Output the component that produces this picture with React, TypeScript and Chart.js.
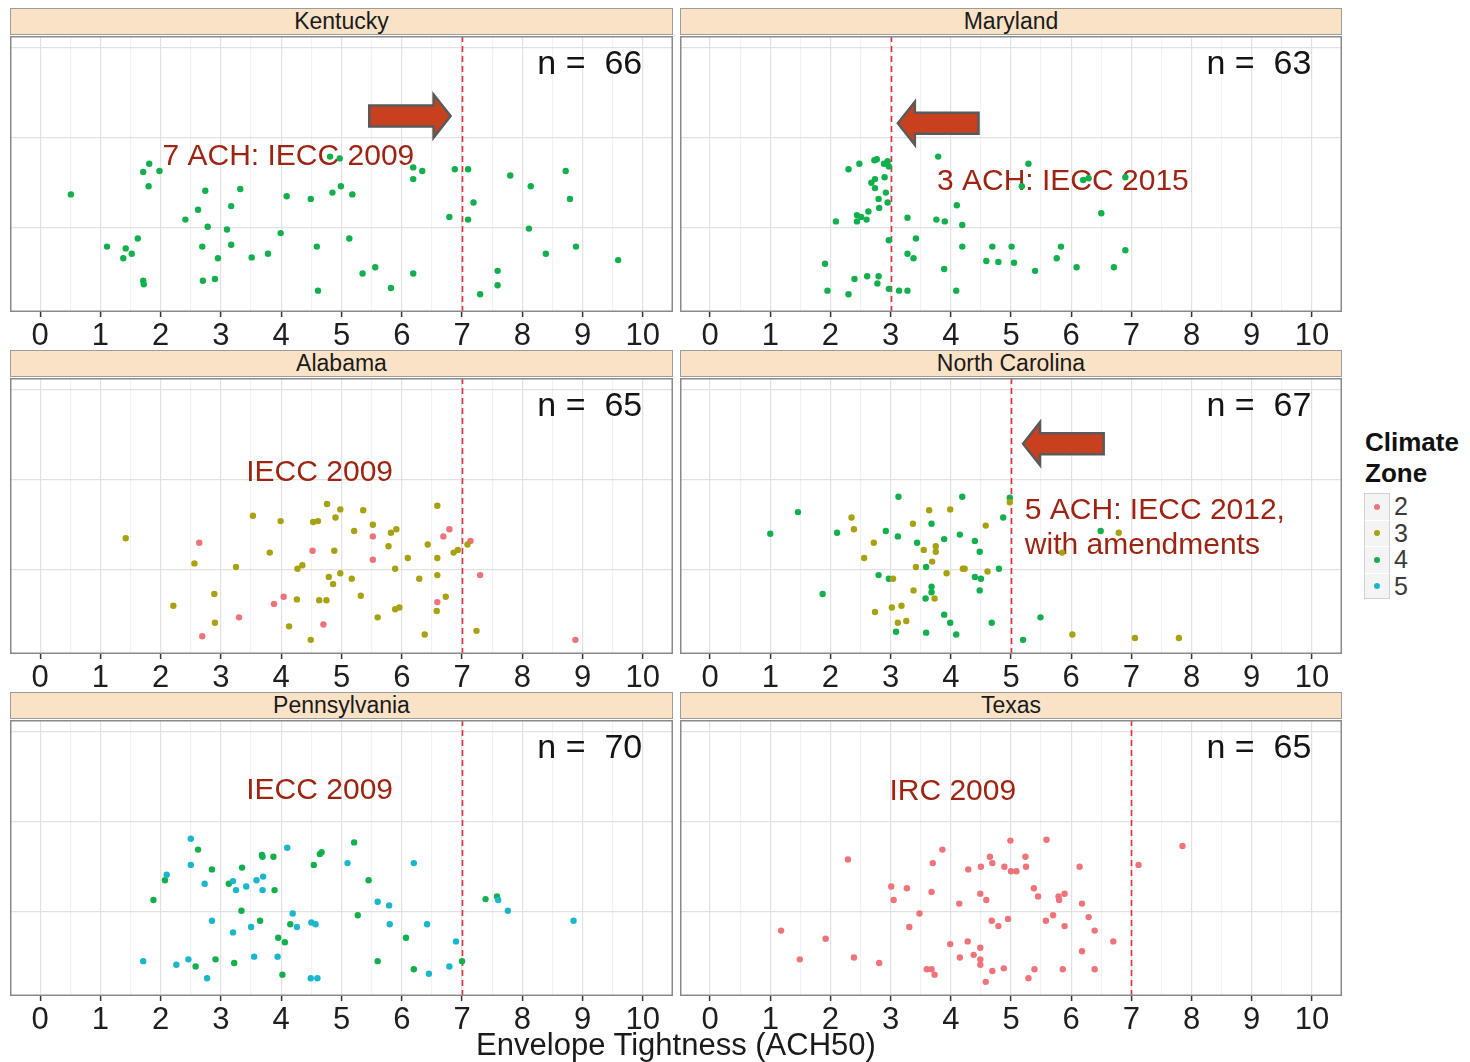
import React, { useEffect, useRef } from 'react';
import { Chart, registerables } from 'chart.js';

Chart.register(...registerables);

const FONT = "'Liberation Sans', Arial, sans-serif";
Chart.defaults.font.family = FONT;

// ---------- data ----------
const X_MAJOR_TICKS = [0, 1, 2, 3, 4, 5, 6, 7, 8, 9, 10];
const X_MINOR_TICKS = [0.5, 1.5, 2.5, 3.5, 4.5, 5.5, 6.5, 7.5, 8.5, 9.5];
const Y_TICKS = [1, 2, 3];
const ZONES = ['2', '3', '4', '5'];
const ZONE_COLORS = ['#F0737A', '#A8A212', '#12B04C', '#1AB7CC'];

type Pt = [number, number];

const KENTUCKY_ZONE4: Pt[] = [[0.51,1.37],[1.81,1.71],[1.71,1.62],[1.98,1.63],[1.80,1.46],[1.11,0.79],[1.42,0.77],[1.62,0.88],[1.52,0.71],[1.38,0.66],[1.71,0.41],[1.72,0.37],[2.74,1.41],[2.62,1.20],[2.41,1.09],[2.78,1.01],[2.69,0.79],[2.95,0.66],[2.70,0.41],[2.90,0.43],[3.32,1.43],[3.17,1.24],[3.10,0.98],[3.17,0.81],[3.51,0.67],[3.78,0.71],[4.09,1.35],[3.99,0.94],[4.49,1.32],[4.59,0.79],[4.61,0.30],[4.81,1.79],[4.97,1.77],[4.85,1.39],[4.99,1.46],[5.18,1.37],[5.13,0.88],[5.35,0.49],[5.56,0.56],[5.82,0.33],[6.19,1.67],[6.34,1.63],[6.19,1.54],[6.19,0.49],[6.88,1.65],[7.10,1.65],[7.19,1.28],[6.79,1.12],[7.10,1.09],[7.30,0.26],[7.59,0.52],[7.59,0.36],[7.80,1.58],[8.14,1.46],[8.11,0.99],[8.39,0.71],[8.72,1.63],[8.79,1.32],[8.89,0.79],[9.59,0.64]];

const MARYLAND_ZONE4: Pt[] = [[2.30,1.65],[2.48,1.71],[2.73,1.75],[2.77,1.76],[2.89,1.71],[2.97,1.68],[2.95,1.74],[2.68,1.50],[2.74,1.54],[2.74,1.44],[2.90,1.56],[2.92,1.39],[2.80,1.32],[2.95,1.28],[2.81,1.22],[2.63,1.18],[2.44,1.14],[2.51,1.12],[2.44,1.07],[2.60,1.09],[2.09,1.07],[2.97,0.86],[3.28,1.11],[3.42,0.88],[3.28,0.71],[3.38,0.66],[3.76,1.09],[3.90,1.07],[3.79,1.79],[4.10,1.25],[4.19,1.03],[4.19,0.79],[3.89,0.54],[1.91,0.60],[2.40,0.43],[2.61,0.46],[2.80,0.46],[2.78,0.38],[1.95,0.30],[2.30,0.26],[2.97,0.32],[3.14,0.30],[3.28,0.30],[4.09,0.30],[4.69,0.79],[4.79,0.62],[4.59,0.63],[5.01,0.79],[5.05,0.61],[5.29,1.71],[5.18,1.46],[6.20,1.53],[6.29,1.55],[6.90,1.56],[6.50,1.16],[5.83,0.79],[5.76,0.66],[6.90,0.75],[5.40,0.52],[6.09,0.56],[6.71,0.56]];

const ALABAMA_ZONE2: Pt[] = [[2.64,1.30],[4.52,1.21],[4.04,0.70],[3.88,0.62],[3.30,0.47],[4.70,0.39],[2.69,0.26],[5.52,1.37],[5.52,1.11],[6.69,1.37],[6.79,1.45],[7.14,1.32],[7.30,0.94],[6.59,0.64],[8.88,0.22]];

const ALABAMA_ZONE3: Pt[] = [[1.42,1.35],[3.53,1.60],[3.99,1.54],[4.53,1.53],[4.61,1.54],[4.76,1.73],[4.90,1.58],[4.98,1.67],[4.88,1.21],[3.81,1.19],[2.56,1.07],[3.25,1.03],[4.27,1.01],[4.35,1.05],[4.98,0.96],[4.79,0.92],[4.86,0.84],[2.89,0.73],[2.21,0.60],[4.26,0.67],[4.63,0.66],[4.75,0.66],[2.90,0.41],[4.13,0.37],[4.49,0.22],[5.36,1.66],[5.52,1.50],[5.21,1.43],[5.82,1.41],[5.91,1.45],[5.78,1.26],[6.10,1.13],[6.59,1.71],[6.43,1.28],[6.59,1.13],[6.86,1.19],[6.93,1.22],[7.09,1.28],[5.17,0.90],[5.89,1.01],[6.29,0.90],[6.59,0.94],[5.32,0.71],[5.89,0.56],[5.96,0.58],[5.60,0.47],[6.73,0.70],[6.58,0.54],[6.38,0.28],[7.24,0.32]];

const NORTH_CAROLINA_ZONE3: Pt[] = [[4.98,1.75],[2.35,1.58],[2.39,1.45],[3.64,1.66],[3.99,1.67],[3.37,1.51],[4.58,1.49],[2.72,1.30],[3.75,1.26],[3.55,1.22],[3.75,1.20],[2.56,1.13],[3.69,1.09],[3.42,1.03],[4.20,1.01],[4.23,1.01],[3.93,0.96],[4.61,0.98],[3.04,0.90],[3.38,0.77],[3.73,0.68],[3.02,0.58],[3.18,0.60],[2.74,0.53],[3.12,0.41],[3.26,0.43],[6.79,1.41],[5.85,1.19],[6.02,0.28],[7.06,0.24],[7.79,0.24]];

const NORTH_CAROLINA_ZONE4: Pt[] = [[3.13,1.81],[4.19,1.81],[4.98,1.80],[1.46,1.64],[1.00,1.40],[2.11,1.41],[3.68,1.51],[4.87,1.58],[2.92,1.43],[3.12,1.37],[4.15,1.39],[3.89,1.34],[4.40,1.32],[3.44,1.30],[4.48,1.20],[3.59,1.03],[4.80,1.01],[2.80,0.94],[2.97,0.90],[4.40,0.92],[4.50,0.90],[3.68,0.81],[3.68,0.75],[4.48,0.77],[1.87,0.73],[3.58,0.68],[3.89,0.50],[3.99,0.41],[4.68,0.41],[3.09,0.31],[3.59,0.30],[4.09,0.28],[6.49,1.43],[5.49,0.47],[5.20,0.22]];

const PENNSYLVANIA_ZONE4: Pt[] = [[2.62,1.69],[2.85,1.47],[2.07,1.35],[1.88,1.13],[3.35,1.49],[3.13,1.31],[3.68,1.63],[3.69,1.61],[3.87,1.61],[3.89,1.24],[4.54,1.52],[4.64,1.64],[4.67,1.66],[3.34,1.01],[3.65,0.90],[4.15,0.86],[3.95,0.71],[4.06,0.66],[2.58,0.39],[2.91,0.47],[3.22,0.43],[4.02,0.30],[5.21,1.77],[5.45,1.35],[5.27,0.96],[6.07,0.71],[5.60,0.45],[6.20,0.36],[7.00,0.45],[7.39,1.14],[7.58,1.17]];

const PENNSYLVANIA_ZONE5: Pt[] = [[2.50,1.81],[2.50,1.52],[2.10,1.41],[2.73,1.31],[3.20,1.34],[3.25,1.24],[3.42,1.28],[3.59,1.35],[3.70,1.39],[3.69,1.24],[4.10,1.71],[2.85,0.90],[3.50,0.83],[3.20,0.77],[4.19,0.98],[4.26,0.83],[4.50,0.88],[4.57,0.86],[1.71,0.45],[2.26,0.41],[2.46,0.47],[3.55,0.50],[3.94,0.50],[2.77,0.26],[4.49,0.26],[4.60,0.26],[5.10,1.54],[6.20,1.54],[5.60,1.11],[5.79,1.07],[5.80,0.86],[6.42,0.86],[6.90,0.67],[6.45,0.31],[6.79,0.39],[7.60,1.13],[7.76,1.01],[8.85,0.90]];

const TEXAS_ZONE2: Pt[] = [[2.29,1.58],[3.86,1.69],[3.70,1.54],[3.01,1.28],[3.27,1.26],[3.05,1.13],[3.68,1.22],[3.48,0.98],[3.31,0.83],[1.18,0.79],[1.92,0.70],[1.49,0.47],[2.39,0.49],[2.81,0.43],[3.60,0.36],[3.68,0.36],[3.73,0.30],[3.99,0.64],[4.15,0.49],[4.28,0.67],[4.38,0.52],[4.49,0.60],[4.49,0.47],[4.49,0.41],[4.58,0.22],[4.69,0.34],[4.88,0.37],[4.14,1.09],[4.29,1.47],[4.50,1.50],[4.65,1.61],[4.69,1.54],[4.89,1.50],[4.99,1.79],[5.00,1.45],[4.49,1.20],[4.59,1.13],[4.68,0.90],[4.79,0.84],[4.95,0.92],[5.59,1.80],[5.24,1.61],[5.25,1.50],[5.09,1.45],[6.14,1.50],[5.38,1.26],[5.45,1.17],[5.79,1.17],[5.89,1.20],[5.80,1.13],[6.18,1.09],[5.70,0.96],[5.58,0.90],[5.89,0.84],[6.29,0.94],[6.39,0.79],[6.70,0.67],[6.18,0.56],[5.39,0.36],[5.29,0.26],[5.86,0.36],[6.39,0.36],[7.12,1.52],[7.85,1.73]];

const STATES = ['Kentucky', 'Maryland', 'Alabama', 'North Carolina', 'Pennsylvania', 'Texas'];
const SAMPLE_SIZES = [66, 63, 65, 67, 70, 65];
const CODE_LIMITS = [7, 3, 7, 5, 7, 7];
const X_TITLE = 'Envelope Tightness (ACH50)';
const LEGEND_TITLE = ['Climate', 'Zone'];

// ---------- panel configuration ----------
type Series = { zone: number; pts: Pt[] };
type Note = { lines: string[]; x: number; y: number };
type Arrow = { tip: number; tail: number; y: number } | null;
type PanelCfg = { idx: number; series: Series[]; note: Note; arrow: Arrow; left: number; top: number; width: number };

const COL_LEFT = [10, 680];
const COL_WIDTH = [663, 662];
const ROW_TOP = [36, 378, 720];
const PLOT_H = 276;
const AXIS_H = 44;

const PANELS: PanelCfg[] = [
  { idx: 0, series: [{ zone: 2, pts: KENTUCKY_ZONE4 }], note: { lines: ['7 ACH: IECC 2009'], x: 2.03, y: 1.70 }, arrow: { tip: 6.81, tail: 5.46, y: 2.24 }, left: COL_LEFT[0], top: ROW_TOP[0], width: COL_WIDTH[0] },
  { idx: 1, series: [{ zone: 2, pts: MARYLAND_ZONE4 }], note: { lines: ['3 ACH: IECC 2015'], x: 3.77, y: 1.42 }, arrow: { tip: 3.12, tail: 4.46, y: 2.16 }, left: COL_LEFT[1], top: ROW_TOP[0], width: COL_WIDTH[1] },
  { idx: 2, series: [{ zone: 1, pts: ALABAMA_ZONE3 }, { zone: 0, pts: ALABAMA_ZONE2 }], note: { lines: ['IECC 2009'], x: 3.42, y: 1.98 }, arrow: null, left: COL_LEFT[0], top: ROW_TOP[1], width: COL_WIDTH[0] },
  { idx: 3, series: [{ zone: 1, pts: NORTH_CAROLINA_ZONE3 }, { zone: 2, pts: NORTH_CAROLINA_ZONE4 }], note: { lines: ['5 ACH: IECC 2012,', 'with amendments'], x: 5.23, y: 1.56 }, arrow: { tip: 5.2, tail: 6.54, y: 2.4 }, left: COL_LEFT[1], top: ROW_TOP[1], width: COL_WIDTH[1] },
  { idx: 4, series: [{ zone: 3, pts: PENNSYLVANIA_ZONE5 }, { zone: 2, pts: PENNSYLVANIA_ZONE4 }], note: { lines: ['IECC 2009'], x: 3.42, y: 2.25 }, arrow: null, left: COL_LEFT[0], top: ROW_TOP[2], width: COL_WIDTH[0] },
  { idx: 5, series: [{ zone: 0, pts: TEXAS_ZONE2 }], note: { lines: ['IRC 2009'], x: 2.98, y: 2.24 }, arrow: null, left: COL_LEFT[1], top: ROW_TOP[2], width: COL_WIDTH[1] },
];

const decoPlugin = {
  id: 'deco',
  beforeDatasetsDraw(chart: any, _a: any, opts: any) {
    const { ctx, chartArea } = chart;
    const xs = chart.scales.x;
    const ys = chart.scales.y;
    ctx.save();
    // dashed code line
    const lx = Math.round(xs.getPixelForValue(opts.limit)) + 0.5;
    ctx.strokeStyle = '#E0303A';
    ctx.lineWidth = 1.6;
    ctx.setLineDash([6, 4]);
    ctx.beginPath();
    ctx.moveTo(lx, chartArea.top);
    ctx.lineTo(lx, chartArea.bottom);
    ctx.stroke();
    ctx.setLineDash([]);
    // note text
    ctx.fillStyle = '#9E2412';
    ctx.font = `30px ${FONT}`;
    ctx.textAlign = 'left';
    ctx.textBaseline = 'alphabetic';
    const nx = xs.getPixelForValue(opts.note.x);
    const ny = ys.getPixelForValue(opts.note.y);
    opts.note.lines.forEach((t: string, i: number) => ctx.fillText(t, nx, ny + i * 35));
    ctx.restore();
  },
  afterDatasetsDraw(chart: any, _a: any, opts: any) {
    const { ctx, chartArea } = chart;
    const xs = chart.scales.x;
    const ys = chart.scales.y;
    ctx.save();
    // n label
    ctx.fillStyle = '#141414';
    ctx.font = `34px ${FONT}`;
    ctx.textAlign = 'right';
    ctx.textBaseline = 'alphabetic';
    ctx.fillText(`n =  ${opts.n}`, xs.getPixelForValue(9.99), ys.getPixelForValue(2.71));
    // arrow
    if (opts.arrow) {
      const tipX = xs.getPixelForValue(opts.arrow.tip);
      const tailX = xs.getPixelForValue(opts.arrow.tail);
      const cy = ys.getPixelForValue(opts.arrow.y);
      const dir = tailX < tipX ? 1 : -1;
      const headLen = 17;
      const bodyH = 10.5;
      const headH = 21.5;
      const baseX = tipX - dir * headLen;
      ctx.beginPath();
      ctx.moveTo(tailX, cy - bodyH);
      ctx.lineTo(baseX, cy - bodyH);
      ctx.lineTo(baseX, cy - headH);
      ctx.lineTo(tipX, cy);
      ctx.lineTo(baseX, cy + headH);
      ctx.lineTo(baseX, cy + bodyH);
      ctx.lineTo(tailX, cy + bodyH);
      ctx.closePath();
      ctx.fillStyle = '#C9401F';
      ctx.fill();
      ctx.strokeStyle = '#5A5A5A';
      ctx.lineWidth = 2.5;
      ctx.lineJoin = 'miter';
      ctx.stroke();
    }
    // panel border
    ctx.strokeStyle = '#8A8A8A';
    ctx.lineWidth = 1.5;
    ctx.strokeRect(chartArea.left + 0.75, chartArea.top + 0.75, chartArea.right - chartArea.left - 1.5, chartArea.bottom - chartArea.top - 1.5);
    ctx.restore();
  },
};

function Panel({ cfg }: { cfg: PanelCfg }) {
  const ref = useRef<HTMLCanvasElement>(null);
  useEffect(() => {
    const chart = new Chart(ref.current as HTMLCanvasElement, {
      type: 'scatter',
      data: {
        datasets: cfg.series.map((s) => ({
          label: ZONES[s.zone],
          data: s.pts.map(([x, y]) => ({ x, y })),
          backgroundColor: ZONE_COLORS[s.zone],
          borderWidth: 0,
          pointRadius: 3.2,
          pointHoverRadius: 3.2,
        })),
      },
      plugins: [decoPlugin as any],
      options: {
        animation: false,
        responsive: false,
        maintainAspectRatio: false,
        events: [],
        layout: { padding: 0, autoPadding: false },
        plugins: {
          legend: { display: false },
          tooltip: { enabled: false },
          deco: {
            limit: CODE_LIMITS[cfg.idx],
            n: SAMPLE_SIZES[cfg.idx],
            note: cfg.note,
            arrow: cfg.arrow,
          },
        } as any,
        scales: {
          x: {
            type: 'linear',
            min: -0.5,
            max: 10.5,
            afterBuildTicks: (scale: any) => {
              scale.ticks = [...X_MAJOR_TICKS, ...X_MINOR_TICKS].sort((a, b) => a - b).map((v) => ({ value: v }));
            },
            afterFit: (scale: any) => {
              scale.height = AXIS_H;
            },
            border: { display: false },
            grid: {
              color: (c: any) => (Number.isInteger(c.tick?.value) ? '#E2E2E2' : '#F2F2F2'),
              lineWidth: 1.2,
              drawTicks: true,
              tickLength: 5,
              tickWidth: 1.5,
              tickColor: (c: any) => (Number.isInteger(c.tick?.value) ? '#333333' : 'rgba(0,0,0,0)'),
            },
            ticks: {
              autoSkip: false,
              maxRotation: 0,
              padding: 1,
              color: '#1E1E1E',
              font: { size: 31, family: FONT },
              callback: (v: any) => (Number.isInteger(v) ? String(v) : ''),
            },
          },
          y: {
            type: 'linear',
            min: 0.063,
            max: 3.13,
            afterBuildTicks: (scale: any) => {
              scale.ticks = Y_TICKS.map((v) => ({ value: v }));
            },
            afterFit: (scale: any) => {
              scale.width = 0;
            },
            border: { display: false },
            grid: { color: '#E2E2E2', lineWidth: 1.2, drawTicks: false },
            ticks: { display: false },
          },
        },
      },
    });
    return () => chart.destroy();
  }, [cfg]);

  const h = PLOT_H + AXIS_H;
  return (
    <>
      <div
        style={{
          position: 'absolute',
          left: cfg.left,
          top: cfg.top - 28,
          width: cfg.width,
          height: 27,
          boxSizing: 'border-box',
          background: '#FAE2C6',
          border: '1px solid #9C9C9C',
          fontFamily: FONT,
          fontSize: 23,
          lineHeight: '25px',
          color: '#1A1A1A',
          textAlign: 'center',
        }}
      >
        {STATES[cfg.idx]}
      </div>
      <canvas
        ref={ref}
        width={cfg.width}
        height={h}
        style={{ position: 'absolute', left: cfg.left, top: cfg.top, width: cfg.width, height: h }}
      />
    </>
  );
}

function Legend() {
  return (
    <div style={{ position: 'absolute', left: 1364, top: 427, fontFamily: FONT }}>
      <div style={{ fontWeight: 'bold', fontSize: 26, lineHeight: '31px', color: '#111', marginLeft: 1 }}>
        {LEGEND_TITLE.map((t) => (
          <div key={t}>{t}</div>
        ))}
      </div>
      <div style={{ marginTop: 4 }}>
        {ZONES.map((z, i) => (
          <div key={z} style={{ display: 'flex', alignItems: 'center', height: 26.5 }}>
            <div
              style={{
                width: 26,
                height: 26.5,
                boxSizing: 'border-box',
                background: '#F4F4F4',
                borderLeft: '1px solid #D0D0D0',
                borderRight: '1px solid #D0D0D0',
                borderTop: i === 0 ? '1px solid #D0D0D0' : '1px solid #FFFFFF',
                borderBottom: i === ZONES.length - 1 ? '1px solid #D0D0D0' : 'none',
                display: 'flex',
                alignItems: 'center',
                justifyContent: 'center',
              }}
            >
              <div style={{ width: 6, height: 6, borderRadius: 3, background: ZONE_COLORS[i] }} />
            </div>
            <div style={{ marginLeft: 4, fontSize: 25, color: '#3A3A3A', lineHeight: '26px' }}>{z}</div>
          </div>
        ))}
      </div>
    </div>
  );
}

export default function App() {
  return (
    <div style={{ position: 'absolute', left: 0, top: 0, width: 1470, height: 1062, background: '#FFFFFF', overflow: 'hidden' }}>
      {PANELS.map((p) => (
        <Panel key={p.idx} cfg={p} />
      ))}
      <Legend />
      <div
        style={{
          position: 'absolute',
          left: 376,
          width: 600,
          top: 1027,
          textAlign: 'center',
          fontFamily: FONT,
          fontSize: 31,
          lineHeight: '36px',
          color: '#1A1A1A',
        }}
      >
        {X_TITLE}
      </div>
    </div>
  );
}
